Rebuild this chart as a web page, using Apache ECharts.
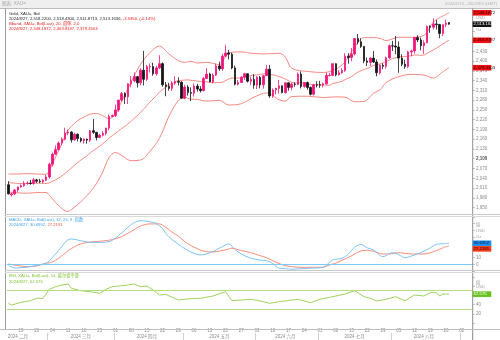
<!DOCTYPE html>
<html>
<head>
<meta charset="utf-8">
<script src="https://cdn.jsdelivr.net/npm/echarts@6/dist/echarts.min.js"></script>
<style>
html,body{margin:0;padding:0;background:#fff;}
#c{width:500px;height:340px;}
</style>
</head>
<body>
<div id="c"></div>
<script>
// Trading days shown on the time axis (2024/2/13 - 2024/9/5)
const dates = [
  '2024-02-13','2024-02-14','2024-02-15','2024-02-16',
  '2024-02-19','2024-02-20','2024-02-21','2024-02-22','2024-02-23',
  '2024-02-26','2024-02-27','2024-02-28','2024-02-29','2024-03-01',
  '2024-03-04','2024-03-05','2024-03-06','2024-03-07','2024-03-08',
  '2024-03-11','2024-03-12','2024-03-13','2024-03-14','2024-03-15',
  '2024-03-18','2024-03-19','2024-03-20','2024-03-21','2024-03-22',
  '2024-03-25','2024-03-26','2024-03-27','2024-03-28','2024-03-29',
  '2024-04-01','2024-04-02','2024-04-03','2024-04-04','2024-04-05',
  '2024-04-08','2024-04-09','2024-04-10','2024-04-11','2024-04-12',
  '2024-04-15','2024-04-16','2024-04-17','2024-04-18','2024-04-19',
  '2024-04-22','2024-04-23','2024-04-24','2024-04-25','2024-04-26',
  '2024-04-29','2024-04-30','2024-05-01','2024-05-02','2024-05-03',
  '2024-05-06','2024-05-07','2024-05-08','2024-05-09','2024-05-10',
  '2024-05-13','2024-05-14','2024-05-15','2024-05-16','2024-05-17',
  '2024-05-20','2024-05-21','2024-05-22','2024-05-23','2024-05-24',
  '2024-05-27','2024-05-28','2024-05-29','2024-05-30','2024-05-31',
  '2024-06-03','2024-06-04','2024-06-05','2024-06-06','2024-06-07',
  '2024-06-10','2024-06-11','2024-06-12','2024-06-13','2024-06-14',
  '2024-06-17','2024-06-18','2024-06-19','2024-06-20','2024-06-21',
  '2024-06-24','2024-06-25','2024-06-26','2024-06-27','2024-06-28',
  '2024-07-01','2024-07-02','2024-07-03','2024-07-04','2024-07-05',
  '2024-07-08','2024-07-09','2024-07-10','2024-07-11','2024-07-12',
  '2024-07-15','2024-07-16','2024-07-17','2024-07-18','2024-07-19',
  '2024-07-22','2024-07-23','2024-07-24','2024-07-25','2024-07-26',
  '2024-07-29','2024-07-30','2024-07-31','2024-08-01','2024-08-02',
  '2024-08-05','2024-08-06','2024-08-07','2024-08-08','2024-08-09',
  '2024-08-12','2024-08-13','2024-08-14','2024-08-15','2024-08-16',
  '2024-08-19','2024-08-20','2024-08-21','2024-08-22','2024-08-23',
  '2024-08-26','2024-08-27','2024-08-28','2024-08-29','2024-08-30',
  '2024-09-02','2024-09-03','2024-09-04','2024-09-05'
];

// Daily prices, XAU= Bid (one entry per trading day up to 2024/8/27)
const open = [
  2020,1989,1992,2004,2013,2017,2024,2025,2024,2035,2031,2029,2034,2044,2083,2114,2128,2148,2160,2179,
  2182,2158,2175,2162,2155,2160,2157,2186,2181,2165,2172,2178,2194,2230,2233,2250,2280,2300,2290,2330,
  2339,2352,2333,2372,2344,2382,2383,2361,2379,2392,2327,2322,2316,2332,2337,2335,2286,2320,2303,2301,
  2323,2314,2309,2346,2360,2336,2357,2385,2376,2415,2425,2421,2379,2329,2334,2350,2361,2338,2343,2326,
  2350,2327,2355,2375,2293,2311,2316,2324,2303,2333,2319,2329,2328,2360,2322,2334,2319,2298,2327,2327,
  2326,2330,2355,2356,2392,2358,2364,2371,2415,2411,2422,2469,2459,2445,2400,2396,2409,2397,2364,2387,
  2384,2410,2447,2446,2443,2409,2390,2383,2428,2431,2472,2465,2447,2456,2507,2504,2514,2512,2485,2512,
  2518.22
];
const high = [
  2031,1996,2006,2015,2021,2031,2030,2035,2041,2038,2038,2037,2050,2088,2119,2141,2153,2165,2195,2189,
  2184,2180,2178,2166,2163,2162,2188,2222,2182,2176,2185,2195,2236,2236,2266,2281,2305,2304,2331,2354,
  2365,2354,2378,2431,2388,2392,2395,2385,2418,2396,2336,2333,2338,2353,2350,2338,2327,2326,2319,2331,
  2330,2323,2351,2378,2364,2362,2392,2398,2422,2450,2434,2426,2386,2342,2354,2364,2362,2352,2360,2354,
  2354,2358,2388,2388,2316,2318,2342,2325,2335,2334,2333,2335,2365,2368,2335,2337,2322,2330,2338,2339,
  2334,2365,2364,2392,2393,2372,2378,2424,2424,2440,2470,2483,2470,2446,2411,2412,2431,2405,2390,2393,
  2414,2451,2462,2477,2460,2421,2404,2431,2435,2474,2479,2472,2464,2509,2510,2531,2526,2514,2512,2527,
  2518.43
];
const low = [
  1990,1984,1988,1996,2011,2014,2020,2020,2020,2025,2025,2025,2031,2039,2076,2113,2125,2141,2156,2172,
  2150,2155,2153,2150,2146,2146,2151,2176,2156,2164,2168,2172,2187,2228,2228,2244,2275,2268,2268,2319,
  2335,2319,2325,2325,2339,2365,2355,2355,2376,2321,2292,2309,2308,2326,2325,2285,2282,2294,2277,2291,
  2306,2303,2307,2345,2335,2332,2354,2370,2370,2413,2405,2375,2325,2325,2333,2342,2334,2326,2315,2314,
  2316,2315,2354,2287,2287,2298,2300,2301,2300,2309,2310,2321,2326,2316,2318,2312,2294,2294,2319,2318,
  2319,2328,2353,2353,2353,2355,2361,2367,2392,2399,2417,2451,2440,2393,2385,2385,2394,2353,2359,2375,
  2377,2406,2431,2421,2364,2384,2376,2378,2415,2423,2458,2433,2422,2455,2487,2497,2497,2470,2477,2504,
  2511.8713
];
const close = [
  1992,1992,2004,2013,2017,2024,2025,2024,2035,2031,2029,2034,2044,2083,2114,2128,2148,2160,2179,2182,
  2158,2175,2162,2155,2160,2157,2186,2181,2165,2172,2178,2194,2230,2233,2250,2280,2300,2290,2330,2339,
  2352,2333,2372,2344,2383,2383,2361,2379,2392,2327,2322,2316,2332,2337,2335,2286,2320,2303,2301,2323,
  2314,2309,2346,2360,2336,2357,2385,2376,2415,2425,2421,2379,2329,2334,2350,2361,2338,2343,2326,2350,
  2327,2355,2375,2293,2311,2316,2324,2303,2333,2319,2329,2328,2360,2322,2334,2319,2298,2327,2326,2326,
  2330,2356,2356,2392,2358,2364,2371,2415,2411,2422,2469,2459,2445,2400,2396,2409,2397,2364,2387,2384,
  2410,2447,2446,2443,2409,2390,2383,2428,2431,2472,2465,2447,2456,2507,2504,2514,2512,2485,2512,2516.7,
  2513.1636
];

// Bollinger band (20, 2.0): middle line, one value per trading day
const bbMiddle = [
  2026.4,2025.7,2024.8,2024.0,2023.8,2023.5,2024.1,2024.2,2025.1,2025.0,2024.6,2024.3,2023.8,2026.0,2030.5,2035.1,2040.8,2047.1,2054.8,2062.9,
  2071.2,2080.4,2088.3,2095.4,2102.5,2109.2,2117.2,2125.1,2131.6,2138.6,2146.1,2154.1,2163.4,2170.9,2177.7,2185.3,2192.9,2199.4,2206.9,2214.8,
  2224.5,2232.4,2242.9,2252.3,2263.5,2274.8,2283.5,2293.4,2304.8,2312.5,2319.7,2325.8,2330.9,2336.1,2340.4,2340.7,2341.7,2342.3,2340.9,2340.1,
  2338.2,2337.0,2335.7,2336.5,2334.1,2332.8,2334.0,2333.9,2335.0,2339.9,2344.9,2348.0,2347.9,2347.7,2348.5,2352.2,2353.1,2355.1,2356.4,2357.7,
  2358.4,2360.7,2362.1,2358.8,2357.5,2355.5,2352.4,2348.8,2344.7,2339.4,2334.8,2332.2,2333.8,2333.2,2332.4,2330.3,2328.3,2327.5,2327.5,2326.3,
  2326.4,2326.5,2325.5,2330.5,2332.8,2335.2,2337.6,2343.2,2347.1,2352.2,2359.2,2365.8,2370.0,2373.9,2377.0,2381.5,2386.5,2388.3,2391.4,2394.3,
  2398.3,2402.8,2407.3,2409.9,2412.4,2413.7,2414.3,2415.0,2416.0,2418.5,2418.3,2417.7,2418.2,2423.6,2429.0,2434.2,2440.0,2446.0,2452.3,2458.9,
  2463.8187
];
// Upper / lower bands as [day index, price]
const bbUpper = [
  [0,2053],[3,2053],[6,2054],[9,2053],[12,2052],[13,2064],[14,2084],[15,2105],[16,2125],[17,2147],[18,2170],[19,2188],[20,2199],
  [22,2217],[24,2228],[26,2237],[28,2239],[30,2232],[32,2223],[34,2236],[36,2276],[39,2336],[42,2390],[45,2426],[48,2446],
  [51,2422],[54,2401],[56,2396],[58,2399],[60,2394],[63,2396],[67,2389],[70,2425],[74,2428],[78,2423],[82,2422],[86,2424],
  [88,2412],[90,2378],[95,2368],[100,2365],[104,2375],[107,2398],[110,2443],[113,2472],[116,2472],[118,2470],[120,2463],
  [124,2473],[128,2473],[132,2479],[135,2520],[138,2538],[140,2548.1872]
];
const bbLower = [
  [0,1998],[3,1995],[6,1994],[9,1996],[12,1996],[13,1988],[14,1977],[15,1965],[16,1956],[17,1947],[18,1940],[19,1938],[20,1944],
  [22,1959],[24,1977],[26,1998],[28,2024],[30,2060],[32,2104],[34,2119],[36,2110],[39,2094],[42,2096],[45,2123],[48,2163],
  [51,2230],[54,2279],[56,2288],[58,2283],[60,2282],[63,2277],[67,2279],[70,2265],[74,2269],[78,2289],[82,2302],[86,2281],
  [88,2277],[90,2291],[95,2292],[100,2288],[104,2290],[107,2289],[110,2275],[113,2276],[116,2301],[118,2311],[120,2334],
  [124,2352],[128,2359],[132,2357],[135,2348],[138,2367],[140,2379.4503]
];

// MACD (12, 26, 9) as [day index, value]
const macdLine = [
  [0,-1],[2,-5.5],[4,-5],[6,-4.2],[8,-2.5],[11,0.4],[12,1.5],[13,5],[14,10],[15,15],[16,20.5],[17,26],[18,32],[19,36],[20,37],
  [22,35.5],[24,33.5],[26,32],[29,32],[32,33],[34,38],[35,42],[37,50],[39,58],[40,61],[42,63.7],[44,63],[46,61],[47,60],
  [49,52],[50,45.3],[52,36],[55,26],[58,18],[61,13.6],[63,15],[66,20.9],[68,26],[70,29.7],[72,21.5],[74,15],[77,8.8],
  [80,6],[82,5.3],[84,1],[86,-5.8],[88,-6.5],[90,-7.3],[93,-6.5],[96,-5.8],[100,-4.4],[103,6.3],[106,8.8],[108,15],
  [110,25],[112,29],[114,24],[116,20.9],[119,11.1],[122,17],[124,14],[126,9.6],[128,12],[131,17],[134,24],[136,29.2],
  [138,30],[140,30.6952]
];
const signalLine = [
  [0,0.4],[3,-2],[6,-3.5],[9,-2.5],[12,1.5],[13,2],[14,3.6],[15,5.9],[16,8.8],[17,12.5],[18,16],[19,20],[20,23],[22,28],
  [24,31],[27,33],[30,34],[33,36],[36,40.5],[39,48],[42,56],[45,59],[48,59],[50,54],[52,47],[54,41],[57,30],[61,20.9],
  [64,18],[66,18.4],[69,21],[71,23.4],[74,20],[77,17],[80,12.5],[82,9.6],[85,3],[88,-2],[91,-4],[93,-4.4],[100,-4.4],
  [102,-1],[104,1.5],[106,6],[108,10],[110,15],[112,19.5],[114,20.5],[116,19],[119,15],[122,15.5],[124,17],[128,15],
  [132,15],[136,20],[138,24],[140,27.2191]
];

// RSI (14, Wilder) as [day index, value]
const rsiLine = [
  [0,43],[1,39],[4,45],[7,48.5],[9,53.7],[11,53.7],[12,62.9],[13,73],[15,78.6],[17,82.3],[19,84.4],[20,75.2],[23,70],
  [26,67.9],[29,64.4],[31,73],[33,78.6],[35,80],[38,82.3],[40,84.4],[42,78.6],[44,80],[46,71.5],[48,60.8],[50,62],
  [54,50],[58,53],[61,53.7],[65,58.6],[69,67.9],[71,48.5],[74,50],[77,51.5],[80,48],[83,42.9],[86,46.3],[92,51.5],
  [96,44.2],[99,51.5],[102,55.8],[104,58.6],[107,62.9],[110,70],[113,57.1],[115,53.7],[117,47.8],[120,51.5],[123,57.1],
  [126,48.5],[129,60.8],[132,58.6],[134,65.7],[136,65.7],[137,58.6],[138,62.9],[140,62.575]
];
const rsiLevels = [70, 30];

// Time axis labels
const dayTicks = [
  '2024-02-19','2024-02-26','2024-03-04','2024-03-11','2024-03-18','2024-03-25','2024-04-01','2024-04-08',
  '2024-04-15','2024-04-22','2024-04-29','2024-05-06','2024-05-13','2024-05-20','2024-05-27','2024-06-03',
  '2024-06-10','2024-06-17','2024-06-24','2024-07-01','2024-07-08','2024-07-15','2024-07-22','2024-07-29',
  '2024-08-05','2024-08-12','2024-08-19','2024-08-26','2024-09-02'
];
const monthLabelAt = ['2024-02-16','2024-03-15','2024-04-15','2024-05-16','2024-06-14','2024-07-16','2024-08-15'];
const monthNames = ['2024 二月','2024 三月','2024 四月','2024 五月','2024 六月','2024 七月','2024 八月'];
const monthStarts = ['2024-03-01','2024-04-01','2024-05-01','2024-06-03','2024-07-01','2024-08-01','2024-09-02'];

// Last values shown in the right-hand boxes
const lastClose = 2513.1636;
const lastMacd = 30.6952, lastSignal = 27.2191, lastRsi = 62.575;

const FONT = "'Liberation Sans','Noto Sans CJK SC',sans-serif";
const fmt = v => String(v).replace(/\B(?=(\d{3})+(?!\d))/g, ',');
const dayTickSet = new Set(dayTicks);
const monthLabelSet = new Set(monthLabelAt);
const monthStartSet = new Set(monthStarts);

const candleData = open.map((o, i) => [o, close[i], low[i], high[i]]);
const N = dates.length;
const L = 6.8, R = 27.3;

const chart = echarts.init(document.getElementById('c'), null, {renderer: 'canvas', width: 500, height: 340});

const hiddenVal = (g) => ({type: 'value', gridIndex: g, min: -0.5, max: N - 0.5, show: false, axisLine: {onZero: false}});
const yLabel = {fontSize: 4.6, color: '#8c8c8c', margin: 3.2, fontFamily: FONT};
const yTick = {show: true, length: 2.2, lineStyle: {color: '#9a9a9a', width: 0.6}};
const yLine = {show: false, onZero: false};

const option = {
  animation: false,
  backgroundColor: '#ffffff',
  grid: [
    {left: L, right: R, top: 2.45, height: 214.85},
    {left: L, right: R, top: 216.4, height: 54.7},
    {left: L, right: R, top: 276.75, height: 46.5}
  ],
  xAxis: [
    {type: 'category', gridIndex: 0, data: dates, show: false, boundaryGap: true, axisLine: {onZero: false}},
    hiddenVal(0),
    hiddenVal(1),
    hiddenVal(2),
    {
      type: 'category', gridIndex: 2, data: dates, boundaryGap: true, position: 'bottom',
      axisLine: {show: false, onZero: false}, axisTick: {show: false},
      axisLabel: {
        interval: (i, v) => dayTickSet.has(v), formatter: v => v.slice(8),
        fontSize: 4.5, color: '#8c8c8c', margin: 5.3, fontFamily: FONT
      }
    },
    {
      type: 'category', gridIndex: 2, data: dates, boundaryGap: true, position: 'bottom', offset: 9.8,
      axisLine: {show: false, onZero: false},
      axisTick: {show: true, interval: (i, v) => monthStartSet.has(v), length: 7, lineStyle: {color: '#c4c4c4', width: 0.8}},
      axisLabel: {
        interval: (i, v) => monthLabelSet.has(v), formatter: v => monthNames[monthLabelAt.indexOf(v)],
        fontSize: 4.5, color: '#8c8c8c', margin: 1.2, fontFamily: FONT
      }
    }
  ],
  yAxis: [
    {
      type: 'value', gridIndex: 0, position: 'right', min: 1920, max: 2580, interval: 30,
      splitLine: {show: false}, axisLine: yLine, axisTick: yTick,
      axisLabel: Object.assign({}, yLabel, {
        formatter: v => (v >= 1950 && v <= 2430) ? (v === 2100 ? '{b|' + fmt(v) + '}' : fmt(v)) : '',
        rich: {b: {fontSize: 4.6, color: '#555', fontWeight: 'bold', fontFamily: FONT}}
      })
    },
    {
      type: 'value', gridIndex: 1, position: 'right', min: -10, max: 70, interval: 10,
      splitLine: {show: false}, axisLine: yLine, axisTick: yTick,
      axisLabel: Object.assign({}, yLabel, {formatter: v => (v === 0 || v === 10) ? String(v) : ''})
    },
    {
      type: 'value', gridIndex: 2, position: 'right', min: 0, max: 100, interval: 20,
      splitLine: {show: false}, axisLine: yLine, axisTick: yTick,
      axisLabel: Object.assign({}, yLabel, {formatter: v => (v === 20 || v === 40) ? String(v) : ''})
    }
  ],
  series: [
    {
      name: 'Bband upper', type: 'line', xAxisIndex: 1, yAxisIndex: 0, data: bbUpper,
      smooth: 0.35, symbol: 'none', lineStyle: {color: '#f57b73', width: 0.9}, z: 2
    },
    {
      name: 'Bband middle', type: 'line', xAxisIndex: 0, yAxisIndex: 0, data: bbMiddle,
      smooth: 0.2, symbol: 'none', lineStyle: {color: '#f57b73', width: 0.9}, z: 2
    },
    {
      name: 'Bband lower', type: 'line', xAxisIndex: 1, yAxisIndex: 0, data: bbLower,
      smooth: 0.35, symbol: 'none', lineStyle: {color: '#f57b73', width: 0.9}, z: 2
    },
    {
      name: 'XAU=', type: 'candlestick', xAxisIndex: 0, yAxisIndex: 0, data: candleData,
      barWidth: 2,
      itemStyle: {color: '#f2157c', color0: '#151515', borderColor: '#f2157c', borderColor0: '#151515', borderWidth: 0.8},
      z: 3
    },
    {
      name: 'MACD', type: 'line', xAxisIndex: 2, yAxisIndex: 1, data: macdLine,
      smooth: 0.3, symbol: 'none', lineStyle: {color: '#7cc2f7', width: 1},
      markLine: {
        silent: true, symbol: 'none', label: {show: false},
        lineStyle: {color: '#7ccbf5', width: 1, type: 'solid'},
        data: [{yAxis: 0}]
      },
      z: 3
    },
    {
      name: 'Signal', type: 'line', xAxisIndex: 2, yAxisIndex: 1, data: signalLine,
      smooth: 0.3, symbol: 'none', lineStyle: {color: '#f68d78', width: 1}, z: 2
    },
    {
      name: 'RSI', type: 'line', xAxisIndex: 3, yAxisIndex: 2, data: rsiLine,
      smooth: false, symbol: 'none', lineStyle: {color: '#93cd4a', width: 0.9},
      markLine: {
        silent: true, symbol: 'none', label: {show: false},
        lineStyle: {color: '#b4e07c', width: 1.2, type: 'solid'},
        data: rsiLevels.map(v => ({yAxis: v}))
      },
      z: 3
    }
  ]
};
chart.setOption(option);

// Frame, headers and value boxes
const G = [];
const line = (x1, y1, x2, y2, c, w) => G.push({type: 'line', silent: true, z: 50,
  shape: {x1, y1, x2, y2}, style: {stroke: c, lineWidth: w || 1}});
const text = (x, y, t, fill, size, extra) => G.push(Object.assign({type: 'text', silent: true, z: 60, x, y,
  style: Object.assign({text: t, fill, fontSize: size || 4.3, fontFamily: FONT, verticalAlign: 'middle', textVerticalAlign: 'middle'}, (extra || {}))}));
const richText = (x, y, parts, size) => {
  const rich = {};
  let s = '';
  parts.forEach((p, k) => { rich['p' + k] = {fill: p[1], color: p[1], fontSize: size, fontFamily: FONT}; s += '{p' + k + '|' + p[0] + '}'; });
  G.push({type: 'text', silent: true, z: 60, x, y,
    style: {text: s, rich, fontSize: size, fontFamily: FONT, verticalAlign: 'middle', textVerticalAlign: 'middle'}});
};

// title bar
G.push({type: 'rect', silent: true, z: 40, shape: {x: 0, y: 0, width: 500, height: 8}, style: {fill: '#efefef'}});
line(0, 8.5, 500, 8.5, '#bdbdbd', 1);
text(2, 4, '图表: XAU=', '#a8a8a8', 4.6);
text(497, 4.3, '2024/2/13 - 2024/9/5 (GMT)', '#b4b4b4', 4.2, {align: 'right', textAlign: 'right'});

// panel borders
line(5.5, 8.5, 5.5, 329.5, '#9d9d9d', 1);
line(472.7, 8.5, 472.7, 340, '#8f8f8f', 1);
line(5, 214.5, 500, 214.5, '#c9c9c9', 1);
line(5, 216.5, 500, 216.5, '#dadada', 1);
line(5, 270.5, 500, 270.5, '#c9c9c9', 1);
line(5, 272.5, 500, 272.5, '#dadada', 1);
line(0, 329.5, 500, 329.5, '#bdbdbd', 1);

// headers
const HS = 4.2;
text(9, 13.7, 'Gold, XAU=, Bid', '#222', HS);
richText(9, 18.7, [['2024/8/27, 2,518.2200, 2,518.4300, 2,511.8713, 2,513.1636, ', '#222'], ['-3.5350, (-0.14%)', '#e8231f']], HS);
text(9, 23.7, 'Bband, XAU=, Bid(Last), 20, 简单, 2.0', '#e8231f', HS);
text(9, 28.7, '2024/8/27, 2,548.1872, 2,463.8187, 2,379.4503', '#e8231f', HS);
text(9, 220.2, 'MACD, XAU=, Bid(Last), 12, 26, 9, 指数', '#3da0f0', HS);
richText(9, 224.6, [['2024/8/27, 30.6952, ', '#3da0f0'], ['27.2191', '#f0553a']], HS);
text(9, 275.6, 'RSI, XAU=, Bid(Last), 14, 威尔德平滑', '#7cc22e', HS);
text(9, 281.6, '2024/8/27, 62.575', '#7cc22e', HS);

// unit captions on the value axes
text(476, 18.3, 'USD', '#a0a0a0', 4.2);
text(476, 30, 'Oz', '#a0a0a0', 4.2);
text(476, 225, '值', '#a0a0a0', 4.2);
text(476, 230.7, 'USD', '#a0a0a0', 4.2);
text(476, 236.6, 'Oz', '#a0a0a0', 4.2);
text(476, 282.7, '值', '#a0a0a0', 4.2);
text(476, 287.2, 'USD', '#a0a0a0', 4.2);

// value boxes on the right axis
const BH = 5.6;
const box = (yAxisIndex, value, label, bg, fg, shift) => {
  const y = chart.convertToPixel({yAxisIndex}, value) + (shift || 0);
  G.push({type: 'rect', silent: true, z: 70, shape: {x: 472.7, y: y - BH / 2, width: 18.6, height: BH}, style: {fill: bg}});
  G.push({type: 'text', silent: true, z: 71, x: 473.6, y: y,
    style: {text: label, fill: fg, fontSize: 4.3, fontFamily: FONT, verticalAlign: 'middle', textVerticalAlign: 'middle'}});
  return y;
};
box(0, bbUpper[bbUpper.length - 1][1], '2,548.1872', '#f01010', '#2a0000');
box(0, lastClose, '2,513.1636', '#111111', '#ffffff');
box(0, bbMiddle[bbMiddle.length - 1], '2,463.8187', '#f01010', '#2a0000');
box(0, bbLower[bbLower.length - 1][1], '2,379.4503', '#f01010', '#2a0000');
const yM = box(1, lastMacd, '30.6952', '#1e90f0', '#001a33');
const ySig = chart.convertToPixel({yAxisIndex: 1}, lastSignal);
box(1, lastSignal, '27.2191', '#f23a1a', '#2a0000', Math.max(0, yM + BH - ySig));
box(2, lastRsi, '62.575', '#66c21a', '#ffffff');

chart.setOption({graphic: G});
</script>
</body>
</html>
